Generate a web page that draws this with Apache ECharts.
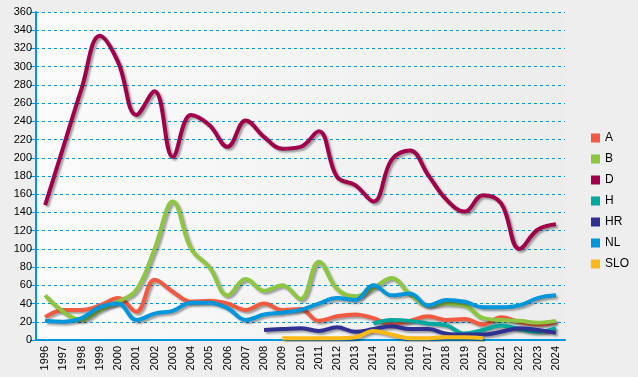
<!DOCTYPE html>
<html>
<head>
<meta charset="utf-8">
<script src="https://cdn.jsdelivr.net/npm/echarts@6/dist/echarts.min.js"></script>
<style>
  html, body { margin: 0; padding: 0; background: #eeeeee; }
  #chart { width: 638px; height: 377px; }
</style>
</head>
<body>
<div id="chart"></div>
<script>
    var years = ['1996','1997','1998','1999','2000','2001','2002','2003','2004','2005',
                 '2006','2007','2008','2009','2010','2011','2012','2013','2014','2015',
                 '2016','2017','2018','2019','2020','2021','2022','2023','2024'];
    var names = ['A', 'B', 'D', 'H', 'HR', 'NL', 'SLO'];
    var colors = ['#f15a40', '#8dc63f', '#a1004b', '#00a99d', '#2e3192', '#0096db', '#fbb917'];

    var dataA   = [25, 33, 33, 38, 46, 31, 66, 53, 42, 43, 40, 33, 40, 33, 34, 21, 26, 28, 24, 17, 21, 26, 22, 23, 17, 25, 20, 17, 20];
    var dataB   = [49, 31, 22, 33, 42, 55, 100, 152, 100, 80, 49, 67, 54, 60, 45, 86, 56, 48, 57, 68, 50, 38, 40, 38, 24, 22, 21, 19, 21];
    var dataD   = [148, 212, 276, 334, 305, 247, 273, 201, 247, 236, 212, 241, 223, 210, 212, 229, 179, 170, 152, 198, 208, 181, 154, 141, 159, 150, 100, 121, 127];
    var dataH   = [null, null, null, null, null, null, null, null, null, null, null, null, null, null, null, null, null, null, 18, 22, 21, 18, 16, 7, 11, 16, 12, 9, 13];
    var dataHR  = [null, null, null, null, null, null, null, null, null, null, null, null, 11, 12, 13, 10, 14, 9, 12, 15, 12, 12, 7, 6, 6, 9, 13, 11, 8];
    var dataNL  = [21, 20, 24, 36, 40, 22, 29, 32, 41, 41, 35, 22, 28, 30, 33, 40, 46, 44, 60, 49, 51, 38, 44, 42, 36, 36, 38, 46, 49];
    var dataSLO = [null, null, null, null, null, null, null, null, null, null, null, null, null, 2, 2, 2, 2, 3, 10, 6, 2, 2, 3, 3, 2, null, null, null, null];

    var seriesData = [dataA, dataB, dataD, dataH, dataHR, dataNL, dataSLO];

    var myChart = echarts.init(document.getElementById('chart'));
    myChart.setOption({
        animation: false,
        backgroundColor: '#eeeeee',
        color: colors,
        textStyle: { fontFamily: 'Liberation Sans, Arial, sans-serif' },
        grid: {
            left: 36,
            right: 73,
            top: 12,
            bottom: 37,
            show: true,
            borderWidth: 0,
            backgroundColor: {
                type: 'linear', x: 0, y: 0, x2: 1, y2: 0,
                colorStops: [
                    { offset: 0, color: '#fbfbfb' },
                    { offset: 1, color: '#ececec' }
                ]
            }
        },
        legend: {
            orient: 'vertical',
            left: 586,
            top: 127,
            icon: 'rect',
            itemWidth: 9,
            itemHeight: 9,
            itemGap: 9,
            textStyle: { fontSize: 12, color: '#000' },
            data: names
        },
        xAxis: {
            type: 'category',
            boundaryGap: true,
            data: years,
            axisLine: { lineStyle: { color: '#0096db', width: 2 } },
            axisTick: { alignWithLabel: true, length: 5, lineStyle: { color: '#0096db' } },
            axisLabel: { rotate: 90, fontSize: 11, color: '#000', margin: 6, interval: 0 }
        },
        yAxis: {
            type: 'value',
            min: 0,
            max: 360,
            interval: 20,
            axisLine: { show: true, lineStyle: { color: '#0096db', width: 2 } },
            axisTick: { show: true, length: 6, lineStyle: { color: '#0096db' } },
            axisLabel: { fontSize: 11, color: '#000', margin: 4 },
            splitLine: { lineStyle: { color: '#0096db', type: [3, 3], width: 1 } }
        },
        series: names.map(function (n, i) {
            return {
                name: n,
                type: 'line',
                smooth: 0.4,
                symbol: 'none',
                connectNulls: false,
                data: seriesData[i],
                lineStyle: {
                    width: 4,
                    color: colors[i],
                    shadowColor: 'rgba(0,0,0,0.35)',
                    shadowBlur: 2,
                    shadowOffsetX: 2,
                    shadowOffsetY: 2
                }
            };
        })
    });
</script>
</body>
</html>
